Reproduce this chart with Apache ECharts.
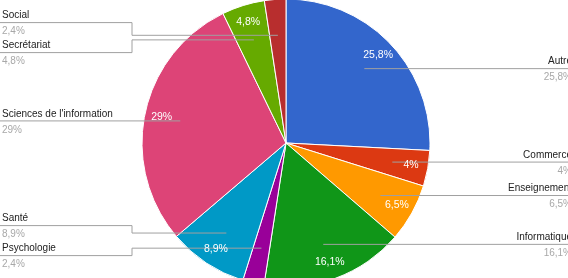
<!DOCTYPE html>
<html>
<head>
<meta charset="utf-8">
<script src="https://cdn.jsdelivr.net/npm/echarts@6/dist/echarts.min.js"></script>
<style>
html,body{margin:0;padding:0;background:#fff;}
#chart{width:568px;height:278px;}
</style>
</head>
<body>
<div id="chart"></div>
<script>
const categories = ['Autre', 'Commerce', 'Enseignement', 'Informatique', 'Psychologie', 'Santé', "Sciences de l'information", 'Secrétariat', 'Social'];
const values = [25.8, 4, 6.5, 16.1, 2.4, 8.9, 29, 4.8, 2.4];
const percentLabels = ['25,8%', '4%', '6,5%', '16,1%', '2,4%', '8,9%', '29%', '4,8%', '2,4%'];
const colors = ['#3366cc', '#dc3912', '#ff9900', '#109618', '#990099', '#0099c6', '#dd4477', '#66aa00', '#b82e2e'];

const W = 568, H = 278;
const CX = 286, CY = 143, R = 144;
const ANCHOR_F = 0.75;
const MIN_GAP = 30;

// anchor points for leader lines (mid-angle of each slice at 0.75 R)
const total = values.reduce((a, b) => a + b, 0);
let cum = 0;
const anchors = values.map(v => {
  const mid = (cum + v / 2) / total * 2 * Math.PI;
  cum += v;
  return [CX + R * ANCHOR_F * Math.sin(mid), CY - R * ANCHOR_F * Math.cos(mid)];
});

// resolve label collisions per side (spread clusters around their mean)
const labelY = anchors.map(a => a[1]);
function spread(idx) {
  idx.sort((a, b) => anchors[a][1] - anchors[b][1]);
  let groups = idx.map(i => ({ items: [i], center: anchors[i][1] }));
  let changed = true;
  while (changed) {
    changed = false;
    for (let g = 0; g < groups.length - 1; g++) {
      const A = groups[g], B = groups[g + 1];
      const aBottom = A.center + (A.items.length - 1) * MIN_GAP / 2;
      const bTop = B.center - (B.items.length - 1) * MIN_GAP / 2;
      if (bTop - aBottom < MIN_GAP) {
        const items = A.items.concat(B.items);
        const center = items.reduce((s, i) => s + anchors[i][1], 0) / items.length;
        groups.splice(g, 2, { items, center });
        changed = true;
        break;
      }
    }
  }
  groups.forEach(G => {
    G.items.forEach((i, k) => {
      labelY[i] = G.center + (k - (G.items.length - 1) / 2) * MIN_GAP;
    });
  });
}
const leftIdx = [], rightIdx = [];
anchors.forEach((a, i) => (a[0] < CX ? leftIdx : rightIdx).push(i));
spread(leftIdx);
spread(rightIdx);

const pieData = categories.map((c, i) => ({ name: c, value: values[i], itemStyle: { color: colors[i] } }));
const ringData = categories.map((c, i) => ({ name: c, value: values[i] }));
const FONT = 'Liberation Sans, Arial, sans-serif';

const chart = echarts.init(document.getElementById('chart'));
chart.setOption({
  animation: false,
  backgroundColor: '#fff',
  series: [
    {
      // visible slices
      type: 'pie',
      z: 1,
      center: [CX, CY],
      radius: [0, R],
      startAngle: 90,
      clockwise: true,
      silent: true,
      data: pieData,
      itemStyle: { borderColor: '#fff', borderWidth: 1 },
      label: { show: false },
      labelLine: { show: false }
    },
    {
      // outer labels with leader lines (drawn above the slices)
      type: 'pie',
      z: 3,
      center: [CX, CY],
      radius: [0, R],
      startAngle: 90,
      clockwise: true,
      avoidLabelOverlap: false,
      silent: true,
      data: ringData,
      itemStyle: { color: 'rgba(0,0,0,0)' },
      label: {
        show: true,
        position: 'outside',
        formatter: p => '{n|' + p.name + '}\n{p|' + percentLabels[p.dataIndex] + '}',
        rich: {
          n: { color: '#222', fontSize: 10, lineHeight: 16, fontFamily: FONT },
          p: { color: '#a8a8a8', fontSize: 10, lineHeight: 16, fontFamily: FONT }
        }
      },
      labelLine: { show: true, lineStyle: { color: '#a0a0a0', width: 1 } },
      labelLayout: function (params) {
        const i = params.dataIndex;
        const a = anchors[i];
        const y = labelY[i];
        const isLeft = a[0] < CX;
        if (isLeft) {
          return {
            x: 2, y: y + 1, align: 'left', verticalAlign: 'middle',
            labelLinePoints: [[a[0], a[1]], [132, a[1]], [132, y], [0, y]]
          };
        }
        return {
          x: 572, y: y + 1, align: 'right', verticalAlign: 'middle',
          labelLinePoints: [[a[0], a[1]], [440, a[1]], [440, y], [W, y]]
        };
      }
    },
    {
      // inner percentage labels
      type: 'pie',
      z: 4,
      center: [CX, CY],
      radius: [104, R],
      startAngle: 90,
      clockwise: true,
      silent: true,
      avoidLabelOverlap: false,
      data: ringData,
      itemStyle: { color: 'rgba(0,0,0,0)' },
      label: {
        show: true,
        position: 'inside',
        color: '#fff',
        fontSize: 10.5,
        fontFamily: FONT,
        formatter: p => (p.value >= 3 ? percentLabels[p.dataIndex] : '')
      },
      labelLine: { show: false }
    }
  ]
});
</script>
</body>
</html>
